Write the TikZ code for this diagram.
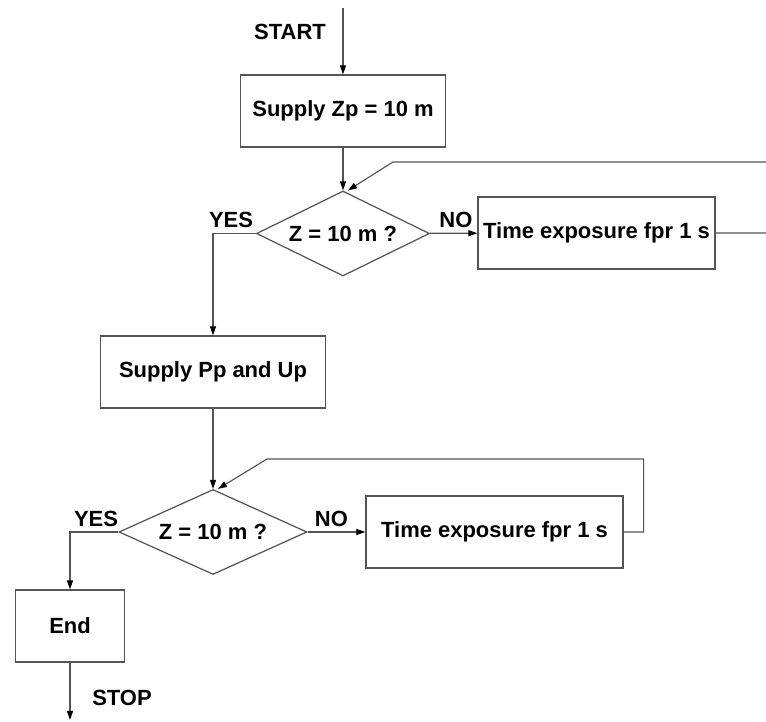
\documentclass[tikz,border=0pt]{standalone}
\usepackage{fontspec}
\setmainfont{Liberation Sans}
\usetikzlibrary{positioning, arrows.meta, shapes.geometric}
\definecolor{linecol}{rgb}{0.33, 0.33, 0.33}
\newcommand{\flowfont}{\bfseries\fontsize{12.5}{15}\selectfont}
\tikzset{
  stepbox/.style={rectangle, draw=linecol, line width=0.7pt,
                  minimum height=1.44cm, inner sep=2pt, font=\flowfont},
  test/.style={diamond, draw=linecol, line width=0.7pt, aspect=2,
               inner sep=0pt, minimum height=1.70cm, font=\flowfont},
  lbl/.style={font=\flowfont, inner sep=0pt},
  arr/.style={-{Triangle[length=1.8mm, width=1.2mm, black]}, line width=0.65pt, linecol},
}

\begin{document}
\begin{tikzpicture}
    \useasboundingbox (0,0) rectangle (15.32,14.44);
    \clip (0,0) rectangle (15.32,14.44);

    \coordinate (start) at (6.86,14.28);
    \node[lbl] (startlbl) at (5.80,13.80) {START};
    \node[stepbox, minimum width=4.10cm] (zp) at (6.86,12.22) {Supply Zp = 10 m};
    \node[test, minimum width=3.46cm] (test1) at (6.86,9.77) {Z = 10 m ?};
    \node[lbl, above left=1mm and 0.5mm of test1.west] (yes1) {YES};
    \node[lbl, above right=1mm and 1.8mm of test1.east] (no1) {NO};
    \node[stepbox, minimum width=4.74cm] (wait1) at (11.93,9.78) {Time exposure fpr 1 s};
    \coordinate (loop1) at (7.86,11.20);

    \node[stepbox, minimum width=4.50cm] (pu) at (4.26,7.00) {Supply Pp and Up};
    \node[test, minimum width=3.76cm] (test2) at (4.26,3.80) {Z = 10 m ?};
    \node[lbl, above left=1mm and 0mm of test2.west] (yes2) {YES};
    \node[lbl, above right=1mm and 1.4mm of test2.east] (no2) {NO};
    \node[stepbox, minimum width=5.14cm] (wait2) at (9.89,3.80) {Time exposure fpr 1 s};
    \coordinate (loop2) at (5.34,5.26);

    \node[stepbox, minimum width=2.18cm] (end) at (1.40,1.92) {End};
    \coordinate (stop) at (1.40,0.04);
    \node[lbl] (stoplbl) at (2.44,0.48) {STOP};

    \draw[arr] (start) -- (zp);
    \draw[arr] (zp) -- (test1);
    \draw[arr] (test1) -- (wait1);
    \draw[arr] (wait1.east) -- ++(1.2,0) |- (loop1) -- ([xshift=1mm]test1.north);
    \draw[arr] (test1.west) -| (pu.north);
    \draw[arr] (pu) -- (test2);
    \draw[arr] (test2) -- (wait2);
    \draw[arr] (wait2.east) -- ++(0.4,0) |- (loop2) -- ([xshift=1mm]test2.north);
    \draw[arr] (test2.west) -| (end.north);
    \draw[arr] (end) -- (stop);
\end{tikzpicture}
\end{document}
